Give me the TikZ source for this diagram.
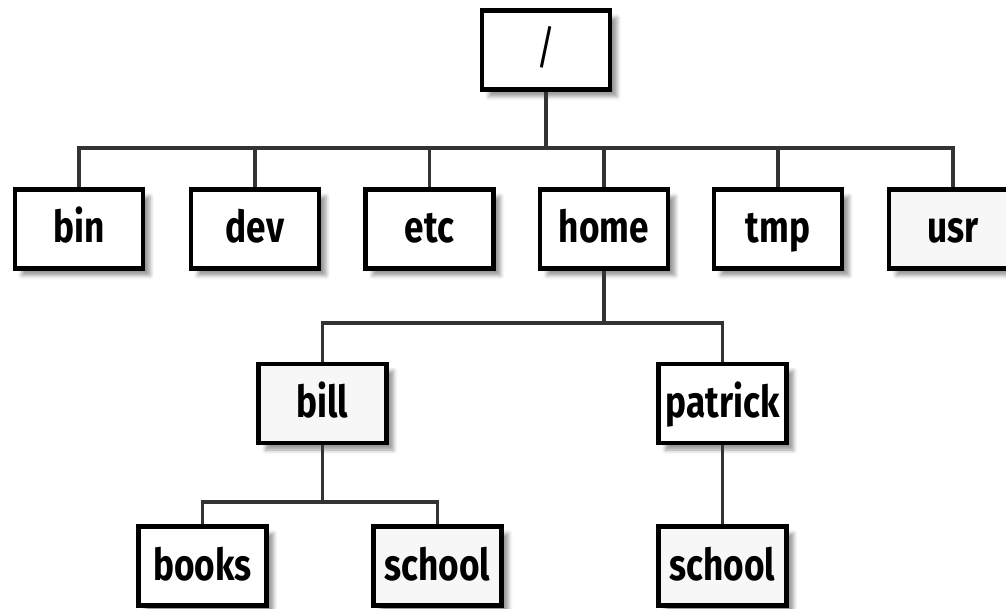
\documentclass[tikz,border=0pt]{standalone}
\usepackage{fontspec}
\setmainfont{Fira Sans}[FakeStretch=0.8]
\usetikzlibrary{shadows.blur}
\definecolor{boxgray}{HTML}{F7F7F7}
\definecolor{linegray}{HTML}{333333}
\tikzset{
  dirbox/.style={draw=black, line width=4.5pt, fill=white, minimum width=128pt, minimum height=79pt,
    inner sep=0pt, text height=34pt, text depth=6pt, font=\fontsize{44}{44}\selectfont\bfseries,
    blur shadow={shadow xshift=7pt, shadow yshift=-7pt, shadow blur radius=4pt, shadow opacity=40}},
  graybox/.style={dirbox, fill=boxgray},
  conn/.style={draw=linegray, line width=3.8pt},
}
\begin{document}
\begin{tikzpicture}[x=1pt,y=-1pt]
\useasboundingbox (0,0) rectangle (1006,609);
\begin{scope}
\clip (0,0) rectangle (1006,609);
\node[dirbox, font=\fontsize{46}{46}\selectfont] (root) at (546,50) {/};
\node[dirbox] (bin) at (79,229) {bin};
\node[dirbox] (dev) at (255,229) {dev};
\node[dirbox] (etc) at (429.5,229) {etc};
\node[dirbox] (home) at (604,229) {home};
\node[dirbox] (tmp) at (778,229) {tmp};
\node[graybox] (usr) at (953,229) {usr};
\node[graybox] (bill) at (322.5,403.5) {bill};
\node[dirbox] (patrick) at (722.5,403.5) {patrick};
\node[dirbox] (books) at (202.5,566) {books};
\node[graybox] (schoolA) at (437.5,566) {school};
\node[graybox] (schoolB) at (722.5,566) {school};

\coordinate (busA) at (546,148);
\coordinate (busB) at (604,323);
\coordinate (busC) at (322.5,502);

\draw[conn] (root.south) -- (busA);
\draw[conn] (bin.north) -- (bin.north |- busA) -- (usr.north |- busA) -- (usr.north);
\draw[conn] (dev.north) -- (dev.north |- busA);
\draw[conn] (etc.north) -- (etc.north |- busA);
\draw[conn] (home.north) -- (home.north |- busA);
\draw[conn] (tmp.north) -- (tmp.north |- busA);

\draw[conn] (home.south) -- (busB);
\draw[conn] (bill.north) -- (bill.north |- busB) -- (patrick.north |- busB) -- (patrick.north);

\draw[conn] (bill.south) -- (busC);
\draw[conn] (books.north) -- (books.north |- busC) -- (schoolA.north |- busC) -- (schoolA.north);

\draw[conn] (patrick.south) -- (schoolB.north);
\end{scope}
\end{tikzpicture}
\end{document}
